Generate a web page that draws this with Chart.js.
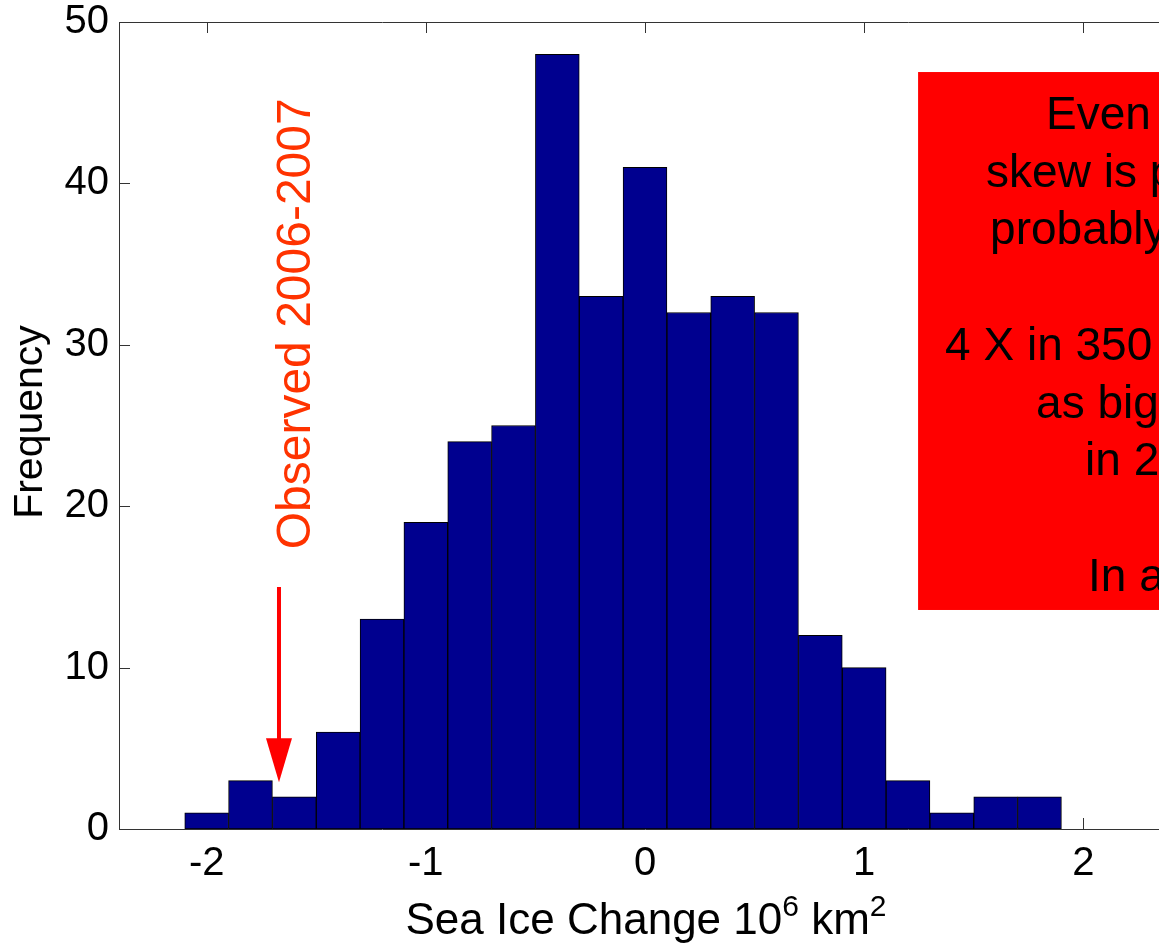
<!DOCTYPE html>
<html>
<head>
<meta charset="utf-8">
<script src="https://cdn.jsdelivr.net/npm/chart.js@4/dist/chart.umd.min.js"></script>
<style>
  html, body { margin: 0; padding: 0; background: #fff; overflow: hidden; }
  #wrap { position: absolute; left: 0; top: 0; width: 1300px; height: 946px; }
</style>
</head>
<body>
<div id="wrap"><canvas id="hist" width="1300" height="946"></canvas></div>
<script>
// Histogram bins: centres of the 0.2-wide bins (10^6 km^2) and their counts
const binCenters = [-2.0, -1.8, -1.6, -1.4, -1.2, -1.0, -0.8, -0.6, -0.4, -0.2,
                    0.0, 0.2, 0.4, 0.6, 0.8, 1.0, 1.2, 1.4, 1.6, 1.8];
const binCounts  = [1, 3, 2, 6, 13, 19, 24, 25, 48, 33,
                    41, 32, 33, 32, 12, 10, 3, 1, 2, 2];

// Axis ticks
const xTickValues = [-2, -1, 0, 1, 2];
const yTickValues = [0, 10, 20, 30, 40, 50];

// Observed change marker (data units)
const observedX = -1.67;
const observedArrowTop = 15.0;
const observedArrowTip = 2.9;
const observedLabel = 'Observed 2006-2007';

// Message box (data units) and its lines
const noteBox = { x0: 1.246, x1: 2.9, yTop: 46.9, yBottom: 13.57 };
const noteLines = [
  'Even if negative',
  'skew is present, it is',
  'probably rare:',
  '',
  '4 X in 350 years',
  'as big a drop as',
  'in 2007',
  '',
  'In a warming world'
];
const noteIndents = [128, 68, 72, 0, 27, 118, 167, 0, 170];

const FONT = "'Liberation Sans', Arial, Helvetica, sans-serif";

// Frame with inward tick marks on all four sides (drawn beneath the bars)
const framePlugin = {
  id: 'frame',
  beforeDatasetsDraw(chart) {
    const { ctx, chartArea: a, scales: { x, y } } = chart;
    ctx.save();
    ctx.strokeStyle = '#333';
    ctx.lineWidth = 1;
    ctx.beginPath();
    ctx.rect(a.left + 0.5, a.top + 0.5, a.right - a.left, a.bottom - a.top);
    const tl = 11;
    xTickValues.forEach(v => {
      const px = Math.round(x.getPixelForValue(v)) + 0.5;
      ctx.moveTo(px, a.bottom); ctx.lineTo(px, a.bottom - tl);
      ctx.moveTo(px, a.top); ctx.lineTo(px, a.top + tl);
    });
    yTickValues.forEach(v => {
      const py = Math.round(y.getPixelForValue(v)) + 0.5;
      ctx.moveTo(a.left, py); ctx.lineTo(a.left + tl, py);
      ctx.moveTo(a.right, py); ctx.lineTo(a.right - tl, py);
    });
    ctx.stroke();
    ctx.restore();
  }
};

// Axis titles, observed-value arrow and the note box
const notesPlugin = {
  id: 'notes',
  afterDraw(chart) {
    const { ctx, chartArea: a, scales: { x, y } } = chart;
    ctx.save();

    // x-axis title with superscripts
    const big = '44px ' + FONT, small = '30px ' + FONT;
    const parts = [
      { t: 'Sea Ice Change 10', f: big, dy: 0 },
      { t: '6', f: small, dy: -18 },
      { t: ' km', f: big, dy: 0 },
      { t: '2', f: small, dy: -18 }
    ];
    let total = 0;
    parts.forEach(p => { ctx.font = p.f; p.w = ctx.measureText(p.t).width; total += p.w; });
    let cx = (a.left + a.right) / 2 - total / 2 + 1;
    const baseY = 934;
    ctx.fillStyle = '#000';
    ctx.textAlign = 'left';
    ctx.textBaseline = 'alphabetic';
    parts.forEach(p => { ctx.font = p.f; ctx.fillText(p.t, cx, baseY + p.dy); cx += p.w; });

    // y-axis title
    ctx.save();
    ctx.translate(42, 422);
    ctx.rotate(-Math.PI / 2);
    ctx.font = '41px ' + FONT;
    ctx.textAlign = 'center';
    ctx.fillText('Frequency', 0, 0);
    ctx.restore();

    // arrow pointing at the observed change
    const ax = x.getPixelForValue(observedX);
    const yTop = y.getPixelForValue(observedArrowTop);
    const yTip = y.getPixelForValue(observedArrowTip);
    const headLen = 44, headHalf = 13;
    ctx.strokeStyle = '#ff0000';
    ctx.fillStyle = '#ff0000';
    ctx.lineWidth = 4;
    ctx.beginPath();
    ctx.moveTo(ax, yTop);
    ctx.lineTo(ax, yTip - headLen + 2);
    ctx.stroke();
    ctx.beginPath();
    ctx.moveTo(ax - headHalf, yTip - headLen);
    ctx.lineTo(ax + headHalf, yTip - headLen);
    ctx.lineTo(ax, yTip);
    ctx.closePath();
    ctx.fill();

    // vertical label for the observed change
    ctx.save();
    ctx.translate(ax + 31, y.getPixelForValue(31.3));
    ctx.rotate(-Math.PI / 2);
    ctx.font = '48px ' + FONT;
    ctx.fillStyle = '#ff3300';
    ctx.textAlign = 'center';
    ctx.fillText(observedLabel, 0, 0);
    ctx.restore();

    // note box
    const bx0 = x.getPixelForValue(noteBox.x0);
    const bx1 = x.getPixelForValue(noteBox.x1);
    const by0 = y.getPixelForValue(noteBox.yTop);
    const by1 = y.getPixelForValue(noteBox.yBottom);
    ctx.fillStyle = '#ff0000';
    ctx.fillRect(bx0, by0, bx1 - bx0, by1 - by0);
    ctx.fillStyle = '#000';
    ctx.font = '46px ' + FONT;
    ctx.textAlign = 'left';
    noteLines.forEach((line, i) => {
      if (line) ctx.fillText(line, bx0 + noteIndents[i], by0 + 57 + i * 57.7);
    });

    ctx.restore();
  }
};

const tickFont = { family: FONT, size: 40 };

new Chart(document.getElementById('hist'), {
  type: 'bar',
  data: {
    datasets: [{
      data: binCenters.map((c, i) => ({ x: c, y: binCounts[i] })),
      backgroundColor: '#00008f',
      borderColor: '#000',
      borderWidth: 1,
      borderSkipped: false,
      barPercentage: 1,
      categoryPercentage: 1,
      grouped: false
    }]
  },
  options: {
    responsive: false,
    animation: false,
    events: [],
    layout: { padding: { top: 22, right: 129, left: 0, bottom: 0 } },
    plugins: { legend: { display: false }, tooltip: { enabled: false } },
    scales: {
      x: {
        type: 'linear',
        min: -2.4,
        max: 2.4,
        offset: false,
        grid: { display: false, drawTicks: false },
        border: { display: false },
        afterBuildTicks: s => { s.ticks = xTickValues.map(v => ({ value: v })); },
        ticks: { font: tickFont, color: '#000', padding: 11, maxRotation: 0, callback: v => String(v) },
        afterFit: s => { s.height = 117; s.paddingLeft = 0; s.paddingRight = 0; }
      },
      y: {
        min: 0,
        max: 50,
        grid: { display: false, drawTicks: false },
        border: { display: false },
        afterBuildTicks: s => { s.ticks = yTickValues.map(v => ({ value: v })); },
        ticks: { font: tickFont, color: '#000', padding: 10, callback: v => String(v) },
        afterFit: s => { s.width = 119; s.paddingTop = 0; s.paddingBottom = 0; }
      }
    }
  },
  plugins: [framePlugin, notesPlugin]
});
</script>
</body>
</html>
